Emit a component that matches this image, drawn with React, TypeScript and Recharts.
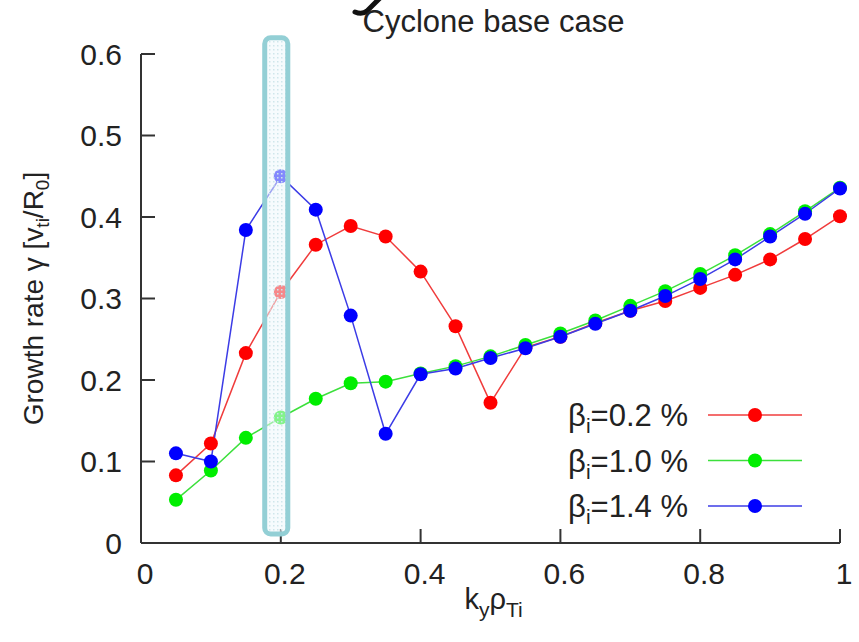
import { LineChart, Line, XAxis, YAxis, ReferenceArea, Legend, Label } from 'recharts'

// wavenumber grid k_y rho_Ti
const kyRho = [0.05, 0.1, 0.15, 0.2, 0.25, 0.3, 0.35, 0.4, 0.45, 0.5, 0.55, 0.6, 0.65, 0.7, 0.75, 0.8, 0.85, 0.9, 0.95, 1.0]

// growth rates gamma [v_ti/R_0] per beta_i
const gammaBeta02 = [0.083, 0.122, 0.233, 0.308, 0.366, 0.389, 0.376, 0.333, 0.266, 0.172, 0.240, 0.253, 0.270, 0.285, 0.297, 0.313, 0.329, 0.348, 0.373, 0.401]
const gammaBeta10 = [0.053, 0.089, 0.129, 0.154, 0.177, 0.196, 0.198, 0.208, 0.217, 0.229, 0.243, 0.257, 0.273, 0.291, 0.309, 0.330, 0.353, 0.379, 0.407, 0.436]
const gammaBeta14 = [0.110, 0.100, 0.384, 0.450, 0.409, 0.279, 0.134, 0.207, 0.214, 0.227, 0.239, 0.253, 0.269, 0.285, 0.303, 0.324, 0.348, 0.376, 0.404, 0.435]

const betaLabels = ['0.2', '1.0', '1.4']
const seriesKeys = ['b02', 'b10', 'b14']
const seriesColors = ['#ff0000', '#00ee00', '#0000ff']
const lineColors = ['#f03c3c', '#3ce03c', '#3c3ce6']

const xTicks = [0, 0.2, 0.4, 0.6, 0.8, 1]
const yTicks = [0, 0.1, 0.2, 0.3, 0.4, 0.5, 0.6]

// highlighted band around k_y rho_Ti = 0.2
const bandX = [0.177, 0.21]
const bandY = [0.011, 0.62]

const data = kyRho.map((k, i) => ({
  k,
  b02: gammaBeta02[i],
  b10: gammaBeta10[i],
  b14: gammaBeta14[i],
}))

const FONT = '"Liberation Sans", Arial, Helvetica, sans-serif'
const AXIS = { stroke: '#333', strokeWidth: 2 }

function BandShape(props: any) {
  const { x, y, width, height } = props
  return (
    <g>
      <defs>
        <pattern id="dots" width="4" height="4" patternUnits="userSpaceOnUse">
          <rect width="4" height="4" fill="#eef8fa" fillOpacity={0.55} />
          <rect x="1" y="1" width="1.5" height="1.5" fill="#cfe6eb" />
        </pattern>
      </defs>
      <rect x={x} y={y} width={width} height={height} rx={6} ry={6} fill="url(#dots)" stroke="#93cfd5" strokeWidth={5} />
    </g>
  )
}

function YTitle(props: any) {
  const vb = props.viewBox
  const cx = 43
  const cy = vb.y + vb.height / 2
  return (
    <text x={cx} y={cy} transform={`rotate(-90, ${cx}, ${cy})`} textAnchor="middle" fontFamily={FONT} fontSize={28} fill="#222">
      Growth rate γ [v<tspan fontSize={19} dy={6}>ti</tspan><tspan dy={-6}>/R</tspan><tspan fontSize={19} dy={6}>0</tspan><tspan dy={-6}>]</tspan>
    </text>
  )
}

function XTitle(props: any) {
  const vb = props.viewBox
  return (
    <text x={vb.x + vb.width / 2 + 3} y={609} textAnchor="middle" fontFamily={FONT} fontSize={29} fill="#222">
      k<tspan fontSize={21} dy={8}>y</tspan><tspan dy={-8}>ρ</tspan><tspan fontSize={21} dy={8}>Ti</tspan>
    </text>
  )
}

function LegendBox() {
  return (
    <svg width={260} height={140} style={{ overflow: 'visible' }}>
      {betaLabels.map((b, i) => {
        const cy = 25 + i * 45.5
        return (
          <g key={b}>
            <text x={128} y={cy + 11} textAnchor="end" fontFamily={FONT} fontSize={31} fill="#222">
              β<tspan fontSize={21} dy={7}>i</tspan><tspan dy={-7}>={b} %</tspan>
            </text>
            <line x1={148} x2={242} y1={cy} y2={cy} stroke={lineColors[i]} strokeWidth={1.5} />
            <circle cx={195} cy={cy} r={7} fill={seriesColors[i]} />
          </g>
        )
      })}
    </svg>
  )
}

export default function App() {
  return (
    <div style={{ position: 'absolute', left: 0, top: 0, width: 859, height: 642, background: '#fff', overflow: 'hidden', fontFamily: FONT }}>
      {/* tail of a heading glyph sitting above the frame */}
      <svg width={40} height={20} style={{ position: 'absolute', left: 345, top: 0 }}>
        <path d="M 35 -2 L 22 11 Q 17 15 10 12" fill="none" stroke="#111" strokeWidth={5} strokeLinecap="round" />
      </svg>
      <div style={{ position: 'absolute', left: 0, top: 2, width: 859, textAlign: 'center', paddingLeft: 128, boxSizing: 'border-box', fontSize: 31, lineHeight: '40px', color: '#222' }}>
        Cyclone base case
      </div>
      <LineChart width={859} height={642} data={data} margin={{ top: 54, right: 19, bottom: 0, left: 0 }} style={{ position: 'absolute', left: 0, top: 0 }}>
        <XAxis dataKey="k" type="number" domain={[0, 1]} ticks={xTicks} height={99} axisLine={AXIS} tickLine={AXIS} tickSize={-14} tickMargin={34}
          tick={{ fill: '#222', fontSize: 30, fontFamily: FONT, dx: 4 }} tickFormatter={(v: number) => String(v)}>
          <Label content={XTitle} />
        </XAxis>
        <XAxis xAxisId="top" orientation="top" type="number" domain={[0, 1]} ticks={xTicks} height={0} axisLine={AXIS} tickLine={AXIS} tickSize={-14} tick={false} />
        <YAxis type="number" domain={[0, 0.6]} ticks={yTicks} width={141} axisLine={AXIS} tickLine={AXIS} tickSize={-14} tickMargin={33}
          tick={{ fill: '#222', fontSize: 30, fontFamily: FONT }} tickFormatter={(v: number) => String(v)}>
          <Label content={YTitle} />
        </YAxis>
        <YAxis yAxisId="right" orientation="right" type="number" domain={[0, 0.6]} ticks={yTicks} width={0} axisLine={AXIS} tickLine={AXIS} tickSize={-14} tick={false} />
        {seriesKeys.map((key, i) => (
          <Line key={key} dataKey={key} type="linear" stroke={lineColors[i]} strokeWidth={1.5}
            dot={{ r: 7, fill: seriesColors[i], stroke: 'none' }} activeDot={false} isAnimationActive={false} />
        ))}
        <ReferenceArea x1={bandX[0]} x2={bandX[1]} y1={bandY[0]} y2={bandY[1]} ifOverflow="visible" shape={BandShape} zIndex={1000} />
        <Legend layout="horizontal" verticalAlign="middle" align="center" content={LegendBox} wrapperStyle={{ left: 560, top: 390, width: 260, height: 140 }} />
      </LineChart>
    </div>
  )
}
